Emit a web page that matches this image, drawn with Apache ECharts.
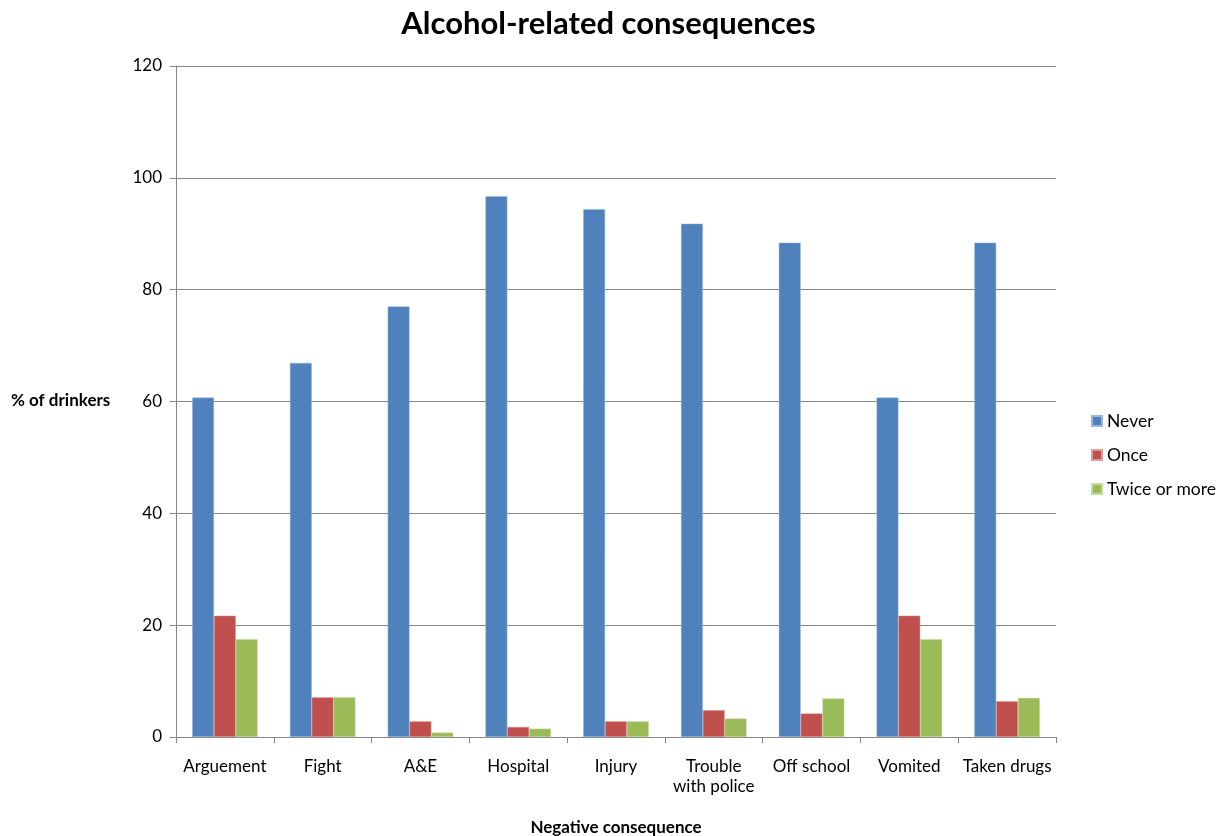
<!DOCTYPE html>
<html>
<head>
<meta charset="utf-8">
<script src="https://cdn.jsdelivr.net/npm/echarts@6/dist/echarts.min.js"></script>
<style>html,body{margin:0;padding:0;background:#fff;}#c{width:1217px;height:836px;}</style>
</head>
<body>
<div id="c"></div>
<script>
const categories = ["Arguement", "Fight", "A&E", "Hospital", "Injury", "Trouble\nwith police", "Off school", "Vomited", "Taken drugs"];
const never = [60.7, 66.9, 77.0, 96.7, 94.4, 91.8, 88.4, 60.7, 88.4];
const once = [21.7, 7.1, 2.8, 1.8, 2.8, 4.8, 4.2, 21.7, 6.4];
const twiceOrMore = [17.5, 7.1, 0.8, 1.5, 2.8, 3.3, 6.9, 17.5, 7.0];
const yTicks = [0, 20, 40, 60, 80, 100, 120];

const FONT = 'Lato, "Liberation Sans", sans-serif';
const chart = echarts.init(document.getElementById('c'));
chart.setOption({
  animation: false,
  textStyle: { fontFamily: FONT },
  title: {
    text: 'Alcohol-related consequences',
    left: 'center', top: 3,
    textStyle: { fontSize: 31, fontWeight: 'bold', color: '#000', fontFamily: FONT }
  },
  grid: { left: 176, right: 161, top: 66, bottom: 99, outerBoundsMode: 'none', containLabel: false },
  legend: {
    orient: 'vertical', left: 1086, top: 407,
    icon: 'rect', itemWidth: 10, itemHeight: 10, itemGap: 16,
    textStyle: { fontSize: 17.5, color: '#000', fontFamily: FONT }
  },
  xAxis: {
    type: 'category', data: categories,
    name: 'Negative consequence', nameLocation: 'middle', nameGap: 82,
    nameTextStyle: { fontSize: 17, fontWeight: 'bold', color: '#000' },
    axisLine: { lineStyle: { color: '#868686' } },
    axisTick: { show: true, length: 6, lineStyle: { color: '#868686' } },
    axisLabel: { fontSize: 17, color: '#000', margin: 20, lineHeight: 20, interval: 0 }
  },
  yAxis: {
    type: 'value', min: 0, max: 120, interval: 20,
    axisLine: { show: true, lineStyle: { color: '#868686' } },
    axisTick: { show: true, length: 6, lineStyle: { color: '#868686' } },
    axisLabel: { fontSize: 17, color: '#000', margin: 14,
      formatter: v => yTicks.includes(v) ? String(v) : '' },
    splitLine: { lineStyle: { color: '#868686' } }
  },
  graphic: [{
    type: 'text', left: 11, top: 392,
    style: { text: '% of drinkers', fontSize: 17, fontWeight: 'bold', fill: '#000', fontFamily: FONT }
  }],
  series: [
    { name: 'Never', type: 'bar', data: never, barGap: '0%', barCategoryGap: '33%',
      itemStyle: { color: '#4F81BD', borderColor: '#9db7da', borderWidth: 0.5 } },
    { name: 'Once', type: 'bar', data: once,
      itemStyle: { color: '#C0504D', borderColor: '#dc9c9a', borderWidth: 0.5 } },
    { name: 'Twice or more', type: 'bar', data: twiceOrMore,
      itemStyle: { color: '#9BBB59', borderColor: '#c6d9a0', borderWidth: 0.5 } }
  ]
});
</script>
</body>
</html>
